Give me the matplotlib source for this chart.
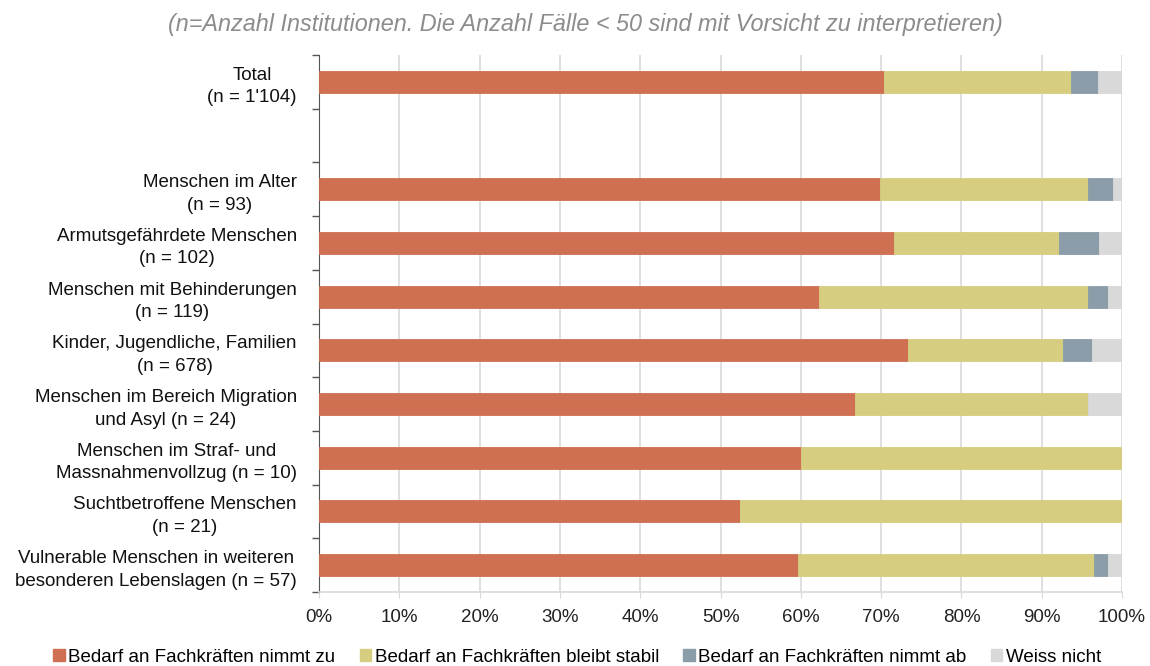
import matplotlib.pyplot as plt
from matplotlib.patches import Patch

plt.rcParams['font.family'] = ['Liberation Sans', 'DejaVu Sans']

# categories (top to bottom), empty string = gap row
categories = [
  "Total\n(n = 1'104)",
  "",
  "Menschen im Alter\n(n = 93)",
  "Armutsgefährdete Menschen\n(n = 102)",
  "Menschen mit Behinderungen\n(n = 119)",
  "Kinder, Jugendliche, Familien\n(n = 678)",
  "Menschen im Bereich Migration\nund Asyl (n = 24)",
  "Menschen im Straf- und\nMassnahmenvollzug (n = 10)",
  "Suchtbetroffene Menschen\n(n = 21)",
  "Vulnerable Menschen in weiteren\nbesonderen Lebenslagen (n = 57)",
]

# shares in percent, None for the gap row
nimmt_zu = [70.3, None, 69.9, 71.6, 62.2, 73.3, 66.7, 60.0, 52.4, 59.6]
bleibt_stabil = [23.4, None, 25.8, 20.6, 33.6, 19.3, 29.1, 40.0, 47.6, 36.9]
nimmt_ab = [3.3, None, 3.2, 4.9, 2.5, 3.7, 0.0, 0.0, 0.0, 1.7]
weiss_nicht = [3.0, None, 1.1, 2.9, 1.7, 3.7, 4.2, 0.0, 0.0, 1.8]

series_labels = ["Bedarf an Fachkräften nimmt zu", "Bedarf an Fachkräften bleibt stabil",
                 "Bedarf an Fachkräften nimmt ab", "Weiss nicht"]
colors = ["#D07052", "#D6CD80", "#8A9DA8", "#D9D9D9"]

fig = plt.figure(figsize=(11.5, 6.66), dpi=100)
ax = fig.add_axes([0.2774, 0.1111, 0.6983, 0.8063])

rows = [i for i, v in enumerate(nimmt_zu) if v is not None]
left = [0.0] * len(rows)
for vals, col in zip([nimmt_zu, bleibt_stabil, nimmt_ab, weiss_nicht], colors):
  w = [vals[i] for i in rows]
  ax.barh(rows, w, left=left, height=0.41, color=col, edgecolor=col, linewidth=0.6, zorder=3)
  left = [a + b for a, b in zip(left, w)]

ax.set_xlim(0, 100)
ax.set_ylim(len(categories) - 0.5, -0.5)
ax.set_xticks(range(0, 101, 10))
ax.set_xticklabels([f"{v}%" for v in range(0, 101, 10)], fontsize=13.5, color="#222222")
ax.tick_params(axis='x', length=4, color="#D9D9D9", pad=8)
ax.grid(axis='x', color="#D9D9D9", linewidth=1.2, zorder=0)

ax.set_yticks(range(len(categories)))
ax.set_yticklabels(categories, fontsize=13.5, color="#111111", multialignment='center',
                   linespacing=1.42)
ax.tick_params(axis='y', which='major', length=0, pad=16)
ax.set_yticks([i - 0.5 for i in range(len(categories) + 1)], minor=True)
ax.tick_params(axis='y', which='minor', length=5, color="#555555", width=1)

for s in ['top', 'right']:
  ax.spines[s].set_visible(False)
ax.spines['bottom'].set_color("#D9D9D9")
ax.spines['bottom'].set_linewidth(1.2)
ax.spines['left'].set_color("#555555")

fig.text(0.5087, 0.9625, "(n=Anzahl Institutionen. Die Anzahl Fälle < 50 sind mit Vorsicht zu interpretieren)",
         ha='center', va='center', fontsize=16.8, style='italic', color="#8C8C8C")

handles = [Patch(facecolor=c, edgecolor=c) for c in colors]
fig.legend(handles, series_labels, loc='center', bbox_to_anchor=(0.502, 0.013), ncol=4,
           frameon=False, fontsize=13.5, handlelength=0.6, handleheight=0.6,
           handletextpad=0.2, columnspacing=1.3, borderaxespad=0)

plt.savefig("out.png", dpi=100)
